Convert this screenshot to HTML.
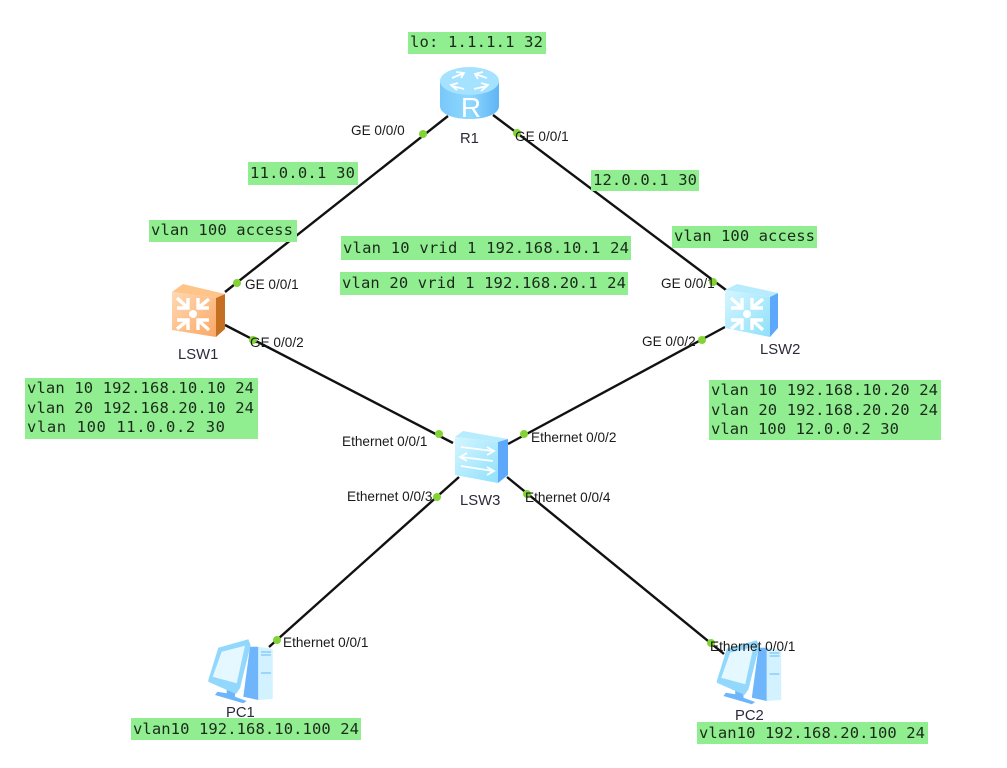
<!DOCTYPE html>
<html><head><meta charset="utf-8"><style>
html,body{margin:0;padding:0;background:#fff;width:1007px;height:768px;overflow:hidden}
svg{display:block;filter:blur(.35px)}
.m{font-family:"DejaVu Sans Mono","Liberation Mono",monospace;font-size:15.5px;fill:#1c2a1c}
.l{font-family:"Liberation Sans",sans-serif;font-size:13.6px;fill:#1a1a1a}
.n{font-family:"Liberation Sans",sans-serif;font-size:14.8px;fill:#2a2a3a}
</style></head><body>
<svg width="1007" height="768" viewBox="0 0 1007 768" xmlns="http://www.w3.org/2000/svg">
<defs>
<linearGradient id="cy" x1="0" x2="1" y1="0" y2="0"><stop offset="0" stop-color="#79c8fa"/><stop offset=".5" stop-color="#8fd8ff"/><stop offset="1" stop-color="#5fb4f5"/></linearGradient>
<linearGradient id="cf" x1="0" x2="1" y1="0" y2="1"><stop offset="0" stop-color="#d4f6ff"/><stop offset="1" stop-color="#8fe0fb"/></linearGradient>
<linearGradient id="of" x1="0" x2="1" y1="0" y2="1"><stop offset="0" stop-color="#ffd9b4"/><stop offset="1" stop-color="#fba765"/></linearGradient>
<g id="star" fill="none" stroke="#fff">
<circle cx="0" cy="0" r="4" fill="#fff" stroke="none"/>
<path d="M-17-15 L-6-5 M-6-15 V-5 H-17 M17-15 L6-5 M6-15 V-5 H17 M-17 15 L6 -100 M-17 15 L-6 5 M-6 15 V5 H-17 M17 15 L6 5 M6 15 V5 H17" stroke-width="3.4" stroke-dasharray="none"/>
</g>
<g id="pc">
<polygon points="42,21.700 50.300,21.700 50.300,75 35.300,71.700" fill="#6fb5fb"/>
<polygon points="50.300,21.700 64.700,24 64.700,74 50.300,75" fill="#d2f2ff"/>
<path d="M53 27 H63 M53 30 H63 M53 48 H63" stroke="#7fc4f7" stroke-width="1.3"/>
<polygon points="18.700,63.300 27,65.700 27,71.700 38.700,76 35.300,78.300 7,70 9.300,66.700 18.700,68.300" fill="#6fb5fb"/>
<polygon points="0.300,55 10.300,22.700 40.300,14.300 42.700,20 32,63.300 28,69 0.300,56.700" fill="#92d8fc"/>
<polygon points="4.700,51.700 13.700,26.700 37,20.700 28.700,58.300" fill="#e6f8ff"/>
</g>
</defs>

<!-- links -->
<g stroke="#111" stroke-width="2.4" fill="none">
<line x1="448" y1="116" x2="225" y2="292"/>
<line x1="493" y1="115" x2="726" y2="290"/>
<line x1="225" y1="325" x2="453" y2="443"/>
<line x1="725" y1="327" x2="508" y2="444"/>
<line x1="459" y1="477" x2="269" y2="647"/>
<line x1="507" y1="477" x2="724" y2="654"/>
</g>

<!-- green boxes -->
<g fill="#90ee90">
<rect x="408" y="32" width="138" height="22"/>
<rect x="248" y="162" width="110" height="23"/>
<rect x="149" y="220" width="148" height="22"/>
<rect x="341" y="236" width="290" height="24"/>
<rect x="340" y="272" width="288" height="23"/>
<rect x="591" y="170" width="108" height="21"/>
<rect x="672" y="226" width="145" height="22"/>
<rect x="25" y="378" width="233" height="61"/>
<rect x="709" y="380" width="232" height="60"/>
<rect x="131" y="718" width="230" height="22"/>
<rect x="697" y="722" width="231" height="22"/>
</g>

<!-- green box text -->
<g class="m">
<text x="410" y="47" textLength="133">lo: 1.1.1.1 32</text>
<text x="250" y="178" textLength="105">11.0.0.1 30</text>
<text x="151" y="235" textLength="142">vlan 100 access</text>
<text x="343" y="253" textLength="286">vlan 10 vrid 1 192.168.10.1 24</text>
<text x="342" y="288" textLength="284">vlan 20 vrid 1 192.168.20.1 24</text>
<text x="593" y="185" textLength="104">12.0.0.1 30</text>
<text x="674" y="241" textLength="141">vlan 100 access</text>
<text x="27" y="393" textLength="227">vlan 10 192.168.10.10 24</text>
<text x="27" y="413" textLength="227">vlan 20 192.168.20.10 24</text>
<text x="27" y="432" textLength="198">vlan 100 11.0.0.2 30</text>
<text x="711" y="395" textLength="227">vlan 10 192.168.10.20 24</text>
<text x="711" y="415" textLength="227">vlan 20 192.168.20.20 24</text>
<text x="711" y="434" textLength="188">vlan 100 12.0.0.2 30</text>
<text x="133" y="734" textLength="226">vlan10 192.168.10.100 24</text>
<text x="699" y="738" textLength="226">vlan10 192.168.20.100 24</text>
</g>

<!-- router -->
<g>
<path d="M440 82 V106 C440 114 453 119 469.500 119 C486 119 499 114 499 106 V82 Z" fill="url(#cy)"/>
<ellipse cx="469.500" cy="81" rx="29.500" ry="14" fill="#a4e2ff"/>
<path d="M452 78 L464 73 M456 72 L464 73 L461 78 M487 78 L475 74 M483 72 L475 74 L478 79 M452 86 L464 89 M457 90 L451 85 L458 83 M487 86 L474 89 M481 91 L488 85 L481 83" stroke="#fff" stroke-width="1.8" fill="none"/>
<text x="471" y="117" text-anchor="middle" font-family="Liberation Sans,sans-serif" font-size="28" fill="#fff">R</text>
</g>

<!-- LSW1 -->
<g>
<polygon points="172,292 183,284 225,294 216,298" fill="#ffc48a"/>
<polygon points="216,298 225,294 225,329 216,337" fill="#c56f22"/>
<polygon points="172,292 216,298 216,337 172,330" fill="url(#of)"/>
<path d="M177 298 L188 308 M188 298 V308 H177 M209 299 L198 308 M198 298 V308 H209 M177 329 L188 320 M188 330 V320 H177 M209 330 L198 320 M198 330 V320 H209" fill="none" stroke="#fff" stroke-width="3.4"/>
<circle cx="193" cy="314" r="4" fill="#fff"/>
</g>

<!-- LSW2 -->
<g>
<polygon points="725,290 737,284 778,293 770,297" fill="#b7ecff"/>
<polygon points="770,297 778,293 778,328 770,337" fill="#5ea8fb"/>
<polygon points="725,290 770,297 770,337 725,328" fill="url(#cf)"/>
<path d="M731 298 L742 308 M742 298 V308 H731 M763 299 L752 308 M752 298 V308 H763 M731 329 L742 320 M742 330 V320 H731 M763 330 L752 320 M752 330 V320 H763" fill="none" stroke="#fff" stroke-width="3.4"/>
<circle cx="747" cy="314" r="4" fill="#fff"/>
</g>

<!-- LSW3 -->
<g>
<polygon points="455,437 463,431 508,439 498,442" fill="#b7ecff"/>
<polygon points="498,442 508,439 508,475 498,483" fill="#5ea8fb"/>
<polygon points="455,437 498,442 498,483 455,475" fill="url(#cf)"/>
<path d="M461 447 L493 451 M487 447 L494 451 L487 455 M493 461 L461 457 M467 453 L460 457 L467 461 M461 466 L493 471 M487 467 L494 471 L487 475" stroke="#fff" stroke-width="1.8" fill="none"/>
</g>

<!-- PCs -->
<use href="#pc" transform="translate(208,625)"/>
<use href="#pc" transform="translate(716.500,626)"/>

<!-- dots -->
<g fill="#82d435">
<circle cx="423" cy="134" r="4"/><circle cx="517" cy="133" r="4"/>
<circle cx="237" cy="283" r="4"/><circle cx="253" cy="340" r="4"/>
<circle cx="713" cy="282" r="4"/><circle cx="702" cy="340" r="4"/>
<circle cx="439" cy="434" r="4"/><circle cx="524" cy="434" r="4"/>
<circle cx="437" cy="497" r="4"/><circle cx="527" cy="494" r="4"/>
<circle cx="277" cy="640" r="4"/><circle cx="711" cy="643" r="4"/>
</g>

<!-- port labels -->
<g class="l">
<text x="351" y="135">GE 0/0/0</text>
<text x="515" y="141">GE 0/0/1</text>
<text x="245" y="289">GE 0/0/1</text>
<text x="250" y="347">GE 0/0/2</text>
<text x="661" y="288">GE 0/0/1</text>
<text x="642" y="346">GE 0/0/2</text>
<text x="342" y="446">Ethernet 0/0/1</text>
<text x="531" y="442">Ethernet 0/0/2</text>
<text x="347" y="501">Ethernet 0/0/3</text>
<text x="525" y="502">Ethernet 0/0/4</text>
<text x="283" y="647">Ethernet 0/0/1</text>
<text x="710" y="651">Ethernet 0/0/1</text>
</g>

<!-- node labels -->
<g class="n">
<text x="460" y="143">R1</text>
<text x="178" y="359">LSW1</text>
<text x="760" y="354">LSW2</text>
<text x="460" y="505">LSW3</text>
<text x="226" y="717">PC1</text>
<text x="735" y="720">PC2</text>
</g>
</svg>
</body></html>
